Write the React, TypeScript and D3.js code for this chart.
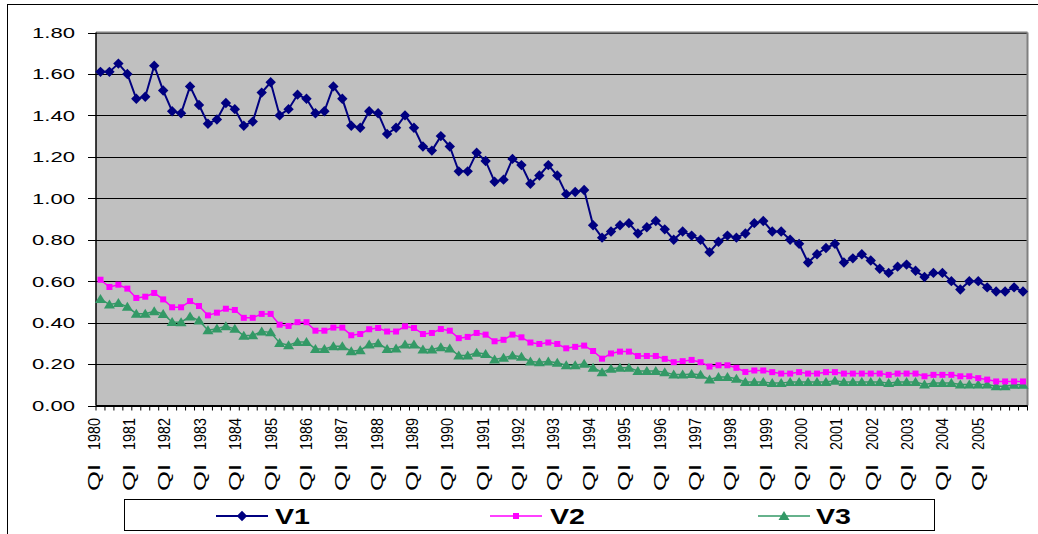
import React from "react";
import * as d3 from "d3";

const years = d3.range(1980, 2006).map(String);
const quarters = years.flatMap((y) => ["I", "II", "III", "IV"].map((q) => `Q${q} ${y}`));
const yTicks = [0, 0.2, 0.4, 0.6, 0.8, 1.0, 1.2, 1.4, 1.6, 1.8];

const v1 = [
  1.61, 1.61, 1.65, 1.6, 1.48, 1.49, 1.64, 1.52, 1.42, 1.41, 1.54, 1.45,
  1.36, 1.38, 1.46, 1.43, 1.35, 1.37, 1.51, 1.56, 1.4, 1.43, 1.5, 1.48,
  1.41, 1.42, 1.54, 1.48, 1.35, 1.34, 1.42, 1.41, 1.31, 1.34, 1.4, 1.34,
  1.25, 1.23, 1.3, 1.25, 1.13, 1.13, 1.22, 1.18, 1.08, 1.09, 1.19, 1.16,
  1.07, 1.11, 1.16, 1.11, 1.02, 1.03, 1.04, 0.87, 0.81, 0.84, 0.87, 0.88,
  0.83, 0.86, 0.89, 0.85, 0.8, 0.84, 0.82, 0.8, 0.74, 0.79, 0.82, 0.81,
  0.83, 0.88, 0.89, 0.84, 0.84, 0.8, 0.78, 0.69, 0.73, 0.76, 0.78, 0.69,
  0.71, 0.73, 0.7, 0.66, 0.64, 0.67, 0.68, 0.65, 0.62, 0.64, 0.64, 0.6,
  0.56, 0.6, 0.6, 0.57, 0.55, 0.55, 0.57, 0.55,
];

const v2 = [
  0.607, 0.572, 0.583, 0.564, 0.519, 0.525, 0.543, 0.512, 0.474, 0.474, 0.504, 0.48,
  0.435, 0.448, 0.467, 0.461, 0.423, 0.423, 0.442, 0.442, 0.39, 0.384, 0.402, 0.402,
  0.361, 0.361, 0.376, 0.376, 0.339, 0.345, 0.368, 0.374, 0.357, 0.357, 0.382, 0.374,
  0.345, 0.35, 0.369, 0.361, 0.325, 0.331, 0.35, 0.342, 0.31, 0.317, 0.342, 0.329,
  0.304, 0.297, 0.304, 0.297, 0.276, 0.283, 0.289, 0.263, 0.226, 0.251, 0.26, 0.26,
  0.239, 0.239, 0.239, 0.225, 0.209, 0.214, 0.22, 0.209, 0.188, 0.194, 0.194, 0.182,
  0.162, 0.169, 0.169, 0.161, 0.154, 0.154, 0.161, 0.154, 0.154, 0.161, 0.161, 0.154,
  0.154, 0.154, 0.154, 0.154, 0.148, 0.154, 0.154, 0.154, 0.141, 0.148, 0.148, 0.148,
  0.141, 0.141, 0.132, 0.125, 0.116, 0.116, 0.116, 0.116,
];

const v3 = [
  0.514, 0.487, 0.495, 0.476, 0.443, 0.443, 0.455, 0.442, 0.403, 0.402, 0.43, 0.41,
  0.363, 0.371, 0.382, 0.37, 0.337, 0.339, 0.357, 0.353, 0.302, 0.291, 0.307, 0.307,
  0.273, 0.273, 0.286, 0.286, 0.262, 0.267, 0.294, 0.3, 0.273, 0.275, 0.294, 0.294,
  0.27, 0.27, 0.281, 0.275, 0.241, 0.241, 0.255, 0.249, 0.222, 0.23, 0.241, 0.235,
  0.212, 0.209, 0.212, 0.206, 0.194, 0.194, 0.201, 0.182, 0.161, 0.177, 0.182, 0.182,
  0.167, 0.167, 0.167, 0.161, 0.149, 0.149, 0.152, 0.148, 0.125, 0.137, 0.137, 0.129,
  0.114, 0.114, 0.114, 0.108, 0.108, 0.114, 0.114, 0.114, 0.114, 0.114, 0.12, 0.114,
  0.114, 0.114, 0.114, 0.114, 0.108, 0.114, 0.114, 0.114, 0.101, 0.108, 0.108, 0.108,
  0.101, 0.101, 0.101, 0.101, 0.093, 0.093, 0.1, 0.1,
];

const seriesNames = ["V1", "V2", "V3"];
const seriesColors = ["#000080", "#FF00FF", "#339966"];

const W = 1038;
const H = 534;
const L = 96;
const R = 1027.5;
const T = 32.5;
const B = 405.5;
const FONT = "'Liberation Sans', Arial, sans-serif";

function Marker({ kind, x, y, color }: { kind: number; x: number; y: number; color: string }) {
  if (kind === 0) {
    const s = 5.2;
    return <path d={`M${x},${y - s}L${x + s},${y}L${x},${y + s}L${x - s},${y}Z`} fill={color} />;
  }
  if (kind === 1) {
    return <rect x={x - 3} y={y - 3} width={6} height={6} fill={color} />;
  }
  const w = 5.5;
  return <path d={`M${x},${y - 5}L${x + w},${y + 4}L${x - w},${y + 4}Z`} fill={color} />;
}

export default function App() {
  const x = d3.scaleBand<number>().domain(d3.range(quarters.length)).range([L, R]);
  const y = d3.scaleLinear().domain([0, 1.8]).range([B, T]);
  const labelX = d3.scaleLinear().domain([0, years.length - 1]).range([94.2, 978.3]);
  const cx = (i: number) => (x(i) as number) + x.bandwidth() / 2;
  const series = [v1, v2, v3];
  const line = d3
    .line<number>()
    .x((_, i) => cx(i))
    .y((d) => y(d));

  const legendItems = [
    { lx: 216, tx: 275 },
    { lx: 490, tx: 550 },
    { lx: 758, tx: 816 },
  ];

  return (
    <div style={{ position: "absolute", left: 0, top: 0 }}>
      <svg width={W} height={H} style={{ display: "block" }}>
        <rect x={0} y={0} width={W} height={H} fill="#fff" />
        <rect x={7.5} y={4.5} width={1040} height={540} fill="#fff" stroke="#000" strokeWidth={1} />
        <rect x={L} y={T} width={R - L} height={B - T} fill="#C0C0C0" />
        {yTicks.map((t) => (
          <line key={t} x1={L} x2={R} y1={Math.round(y(t)) + 0.5} y2={Math.round(y(t)) + 0.5} stroke="#000" strokeWidth={1} />
        ))}
        <line x1={L} x2={R} y1={T} y2={T} stroke="#808080" strokeWidth={2} />
        <line x1={R} x2={R} y1={T} y2={B} stroke="#808080" strokeWidth={2} />
        <line x1={L} x2={L} y1={T} y2={B} stroke="#000" strokeWidth={1.5} />
        <line x1={L} x2={R} y1={B} y2={B} stroke="#000" strokeWidth={1} />
        {yTicks.map((t) => (
          <g key={"yt" + t}>
            <line x1={L - 8} x2={L} y1={Math.round(y(t)) + 0.5} y2={Math.round(y(t)) + 0.5} stroke="#000" />
            <text
              x={32}
              y={y(t)}
              dy="0.36em"
              fontFamily={FONT}
              fontSize={15}
              textLength={43}
              lengthAdjust="spacingAndGlyphs"
              fill="#000"
            >
              {t.toFixed(2)}
            </text>
          </g>
        ))}
        {d3.range(quarters.length + 1).map((i) => {
          const xx = i < quarters.length ? (x(i) as number) : R;
          return <line key={"xt" + i} x1={xx} x2={xx} y1={B} y2={B + 5} stroke="#000" />;
        })}
        {years.map((yr, k) => (
          <g key={yr} transform={`translate(${labelX(k)},0)`}>
            <text
              transform="translate(0,450) rotate(-90) scale(0.9,1)"
              x={0}
              y={5.5}
              style={{ fontFamily: FONT, fontSize: "16px" }}
              fill="#000"
            >
              {yr}
            </text>
            <text
              transform="translate(0,491) rotate(-90) scale(1.6,1)"
              x={0}
              y={5.5}
              style={{ fontFamily: FONT, fontSize: "16px" }}
              fill="#000"
            >
              QI
            </text>
          </g>
        ))}
        {series
          .map((s, k) => ({ s, k }))
          .reverse()
          .map(({ s, k }) => (
            <g key={seriesNames[k]}>
              <path d={line(s) || ""} fill="none" stroke={seriesColors[k]} strokeWidth={k === 0 ? 2 : 1.5} />
              {s.map((v, i) => (
                <Marker key={i} kind={k} x={cx(i)} y={y(v)} color={seriesColors[k]} />
              ))}
            </g>
          ))}
        <rect x={124.5} y={499.5} width={810} height={31} fill="#fff" stroke="#000" strokeWidth={1} />
        {legendItems.map((it, k) => (
          <g key={"lg" + k}>
            <line x1={it.lx} x2={it.lx + 52} y1={516} y2={516} stroke={seriesColors[k]} strokeWidth={k === 0 ? 2 : 1.5} />
            <Marker kind={k} x={it.lx + 26} y={516} color={seriesColors[k]} />
            <text
              x={it.tx}
              y={524}
              fontFamily={FONT}
              fontWeight="bold"
              fontSize={22}
              textLength={35}
              lengthAdjust="spacingAndGlyphs"
              fill="#000"
            >
              {seriesNames[k]}
            </text>
          </g>
        ))}
      </svg>
    </div>
  );
}
